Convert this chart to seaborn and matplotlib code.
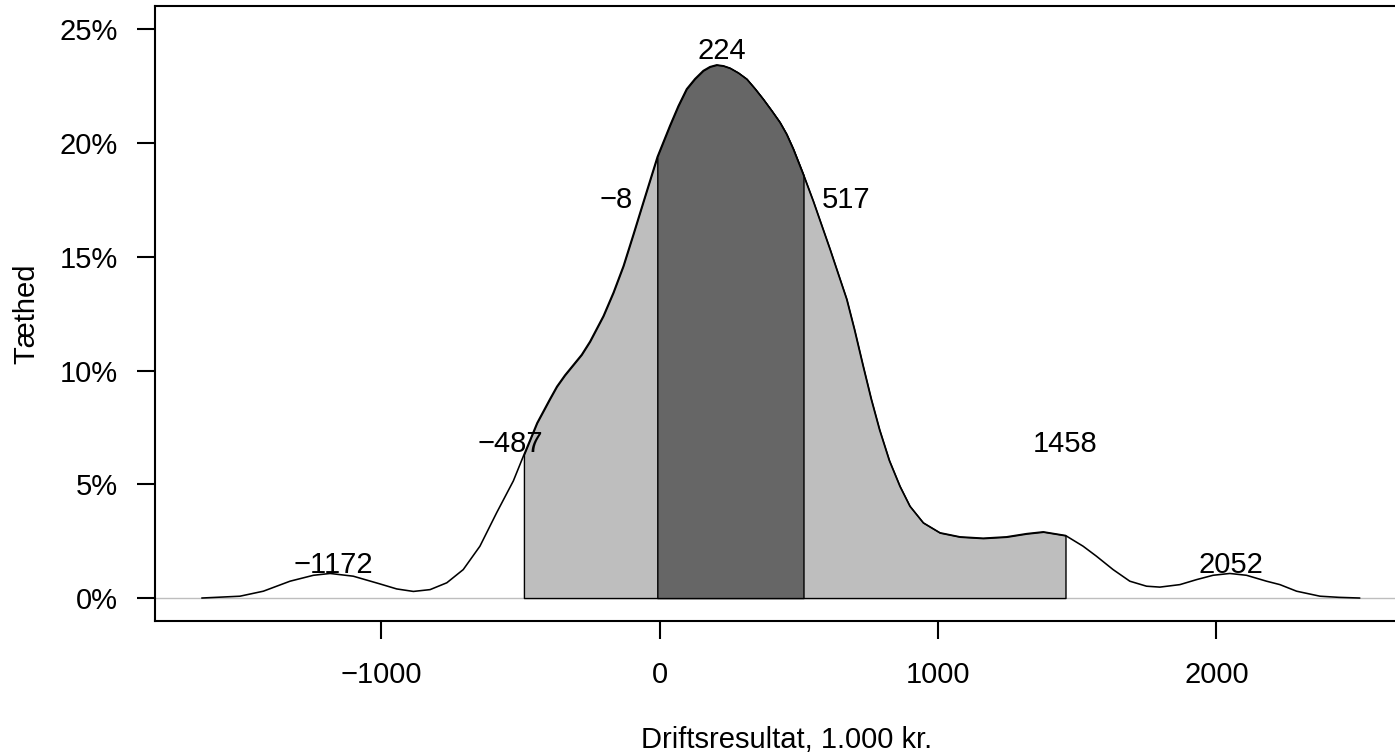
import numpy as np
import pandas as pd
import matplotlib
matplotlib.use("Agg")
import matplotlib.pyplot as plt
import seaborn as sns

# ---- data (x in 1.000 kr., density in percent) ----
x_vals = [-1644, -1507, -1423, -1327, -1243, -1183, -1100, -1004, -944, -884,
          -824, -764, -705, -645, -585, -525, -487, -440, -394, -369,
          -340, -310, -280, -250, -202, -166, -130, -94, -59, -8,
          37, 67, 97, 127, 157, 181, 205, 229, 253, 283,
          313, 343, 372, 402, 432, 456, 480, 517, 552, 612,
          672, 700, 731, 760, 790, 825, 863, 899, 947, 1007,
          1079, 1162, 1246, 1318, 1378, 1458, 1521, 1569, 1629, 1689,
          1749, 1797, 1869, 1929, 1988, 2048, 2108, 2180, 2228, 2288,
          2372, 2440, 2515]
dens_pct = [0.0, 0.08, 0.30, 0.74, 1.00, 1.08, 0.96, 0.62, 0.40, 0.29,
            0.37, 0.67, 1.25, 2.28, 3.75, 5.15, 6.30, 7.70, 8.75, 9.30,
            9.80, 10.25, 10.70, 11.28, 12.40, 13.43, 14.6, 16.0, 17.39, 19.4,
            20.77, 21.63, 22.38, 22.83, 23.19, 23.36, 23.44, 23.40, 23.30, 23.09,
            22.82, 22.39, 21.94, 21.44, 20.92, 20.40, 19.75, 18.6, 17.45, 15.34,
            13.14, 11.8, 10.2, 8.75, 7.4, 6.05, 4.92, 4.04, 3.31, 2.87,
            2.69, 2.63, 2.69, 2.83, 2.91, 2.75, 2.28, 1.84, 1.25, 0.74,
            0.52, 0.48, 0.59, 0.81, 1.00, 1.08, 1.00, 0.74, 0.59, 0.30,
            0.08, 0.03, 0.0]

outer_band = [-487, 1458]      # light grey region
inner_band = [-8, 517]         # dark grey region

label_values = [-1172, -487, -8, 224, 517, 1458, 2052]
label_texts = ["\u22121172", "\u2212487", "\u22128", "224", "517", "1458", "2052"]
label_heights_pct = [1.47, 6.76, 17.5, 24.05, 17.5, 6.76, 1.47]

x_ticks = [-1000, 0, 1000, 2000]
x_tick_labels = ["\u22121000", "0", "1000", "2000"]
y_ticks_pct = [0, 5, 10, 15, 20, 25]
y_tick_labels = ["0%", "5%", "10%", "15%", "20%", "25%"]

x_label = "Driftsresultat, 1.000 kr."
y_label = "T\u00e6thed"

# ---- plotting ----
sns.set_theme(style="white")
plt.rcParams["font.family"] = ["Liberation Sans", "DejaVu Sans"]
FS = 21

df = pd.DataFrame({"x": x_vals, "d": np.array(dens_pct) / 100.0})

fig = plt.figure(figsize=(13.95, 7.56), dpi=100)
ax = fig.add_axes([155 / 1395, 135 / 756, 1263 / 1395, 615 / 756])

ax.axhline(0, color="#bebebe", lw=1.0, zorder=1)

xs = df["x"].to_numpy()
ds = df["d"].to_numpy()

m1 = (xs >= outer_band[0]) & (xs <= outer_band[1])
ax.fill_between(xs[m1], 0, ds[m1], facecolor="#bebebe", edgecolor="black",
                linewidth=1.0, zorder=2)
m2 = (xs >= inner_band[0]) & (xs <= inner_band[1])
ax.fill_between(xs[m2], 0, ds[m2], facecolor="#666666", edgecolor="black",
                linewidth=1.0, zorder=3)

sns.lineplot(data=df, x="x", y="d", color="black", lw=1.15, ax=ax, zorder=4,
             solid_joinstyle="round", solid_capstyle="round")

# labels
offsets = {"\u2212487": (-10, "center"), "\u22128": (-18, "right"),
           "517": (13, "left")}
for v, t, h in zip(label_values, label_texts, label_heights_pct):
    dx, ha = offsets.get(t, (0, "center"))
    ax.annotate(t, xy=(v, h / 100.0), xytext=(dx, 0), textcoords="offset points",
                ha=ha, va="center", fontsize=FS, color="black", zorder=5)

ax.set_xlim(-1812, 2724)
ax.set_ylim(-0.0101, 0.2603)
ax.set_xticks(x_ticks)
ax.set_xticklabels(x_tick_labels)
ax.set_yticks(np.array(y_ticks_pct) / 100.0)
ax.set_yticklabels(y_tick_labels)

for s in ["left", "bottom", "top"]:
    ax.spines[s].set_visible(True)
    ax.spines[s].set_color("black")
    ax.spines[s].set_linewidth(1.5)
ax.spines["right"].set_visible(False)

ax.tick_params(axis="both", which="major", direction="out", length=13, width=1.5,
               color="black", labelsize=FS, labelcolor="black", left=True, bottom=True)
ax.tick_params(axis="y", pad=14)
ax.tick_params(axis="x", pad=16)

ax.set_xlabel(x_label, fontsize=FS, color="black", va="center")
ax.set_ylabel(y_label, fontsize=FS, color="black", va="center")
ax.xaxis.set_label_coords(0.5, -0.1935)
ax.yaxis.set_label_coords(-0.102, 0.5)
ax.grid(False)

fig.savefig("out.png", dpi=100)
